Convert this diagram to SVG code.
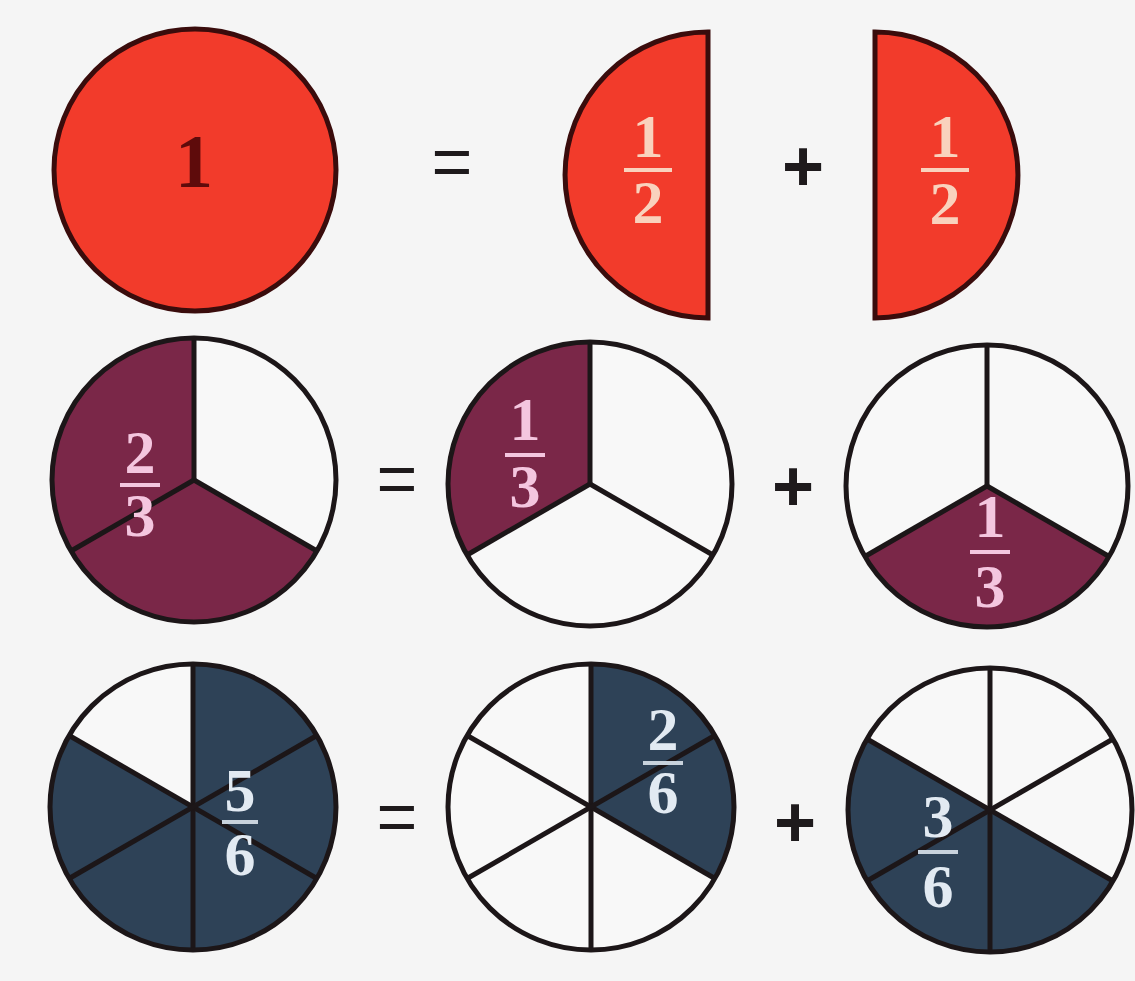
<svg xmlns="http://www.w3.org/2000/svg" width="1135" height="981" viewBox="0 0 1135 981">
<style>
.bg{fill:#f5f5f5}
.red{fill:#f23b2b;stroke:#3a0c0c;stroke-width:5}
.white{fill:#f8f8f8}
.rim{fill:none;stroke:#1c1618;stroke-width:5}
.spoke{stroke:#1c1618;stroke-width:5}
.maroon{fill:#7a2748}
.navy{fill:#2e4257}
.num{font-family:"Liberation Serif","Times New Roman",serif;font-weight:bold;font-size:62px;text-anchor:middle}
.halfT{fill:#f9d2bd}
.halfB{stroke:#f9d2bd;stroke-width:4}
.pinkT{fill:#f4c6df}
.pinkB{stroke:#f4c6df;stroke-width:4}
.blueT{fill:#e2eaf2}
.blueB{stroke:#c8d2dc;stroke-width:4}
.op{font-family:"Liberation Sans",Arial,sans-serif;font-size:70px;fill:#1e1a1c;text-anchor:middle}
.plus{font-weight:bold;font-size:72px}
</style>
<rect class="bg" x="0" y="0" width="1135" height="981"/>

<g id="whole">
<circle class="red" cx="195" cy="170" r="141"/>
<text x="194" y="187" font-family="'Liberation Serif',serif" font-weight="bold" font-size="76" fill="#5e0b0b" text-anchor="middle">1</text>
</g>
<g id="eq1"><text class="op" x="452" y="186">=</text></g>
<g id="half-left">
<path class="red" d="M708,32 A143,143 0 0 0 708,318 Z"/>
<text class="num halfT" x="648" y="157">1</text>
<line class="halfB" x1="624" y1="170" x2="672" y2="170"/>
<text class="num halfT" x="648" y="223">2</text>
</g>
<g id="plus1"><text class="op plus" x="803" y="191">+</text></g>
<g id="half-right">
<path class="red" d="M875,32 A143,143 0 0 1 875,318 Z"/>
<text class="num halfT" x="945" y="157">1</text>
<line class="halfB" x1="921" y1="170" x2="969" y2="170"/>
<text class="num halfT" x="945" y="224">2</text>
</g>

<g id="two-thirds">
<circle class="white" cx="194" cy="480" r="142"/>
<path class="maroon" d="M194,480 L194,338 A142,142 0 1 0 316.98,551 Z"/>
<line class="spoke" x1="194" y1="480" x2="194" y2="338"/>
<line class="spoke" x1="194" y1="480" x2="316.98" y2="551"/>
<line class="spoke" x1="194" y1="480" x2="71.02" y2="551"/>
<circle class="rim" cx="194" cy="480" r="142"/>
<text class="num pinkT" x="140" y="473">2</text>
<line class="pinkB" x1="120" y1="485" x2="160" y2="485"/>
<text class="num pinkT" x="140" y="536">3</text>
</g>
<g id="eq2"><text class="op" x="397" y="503">=</text></g>
<g id="one-third-a">
<circle class="white" cx="590" cy="484" r="142"/>
<path class="maroon" d="M590,484 L590,342 A142,142 0 0 0 467.02,555 Z"/>
<line class="spoke" x1="590" y1="484" x2="590" y2="342"/>
<line class="spoke" x1="590" y1="484" x2="712.98" y2="555"/>
<line class="spoke" x1="590" y1="484" x2="467.02" y2="555"/>
<circle class="rim" cx="590" cy="484" r="142"/>
<text class="num pinkT" x="525" y="440">1</text>
<line class="pinkB" x1="505" y1="455" x2="545" y2="455"/>
<text class="num pinkT" x="525" y="507">3</text>
</g>
<g id="plus2"><text class="op plus" x="793" y="511">+</text></g>
<g id="one-third-b">
<circle class="white" cx="987" cy="486" r="141"/>
<path class="maroon" d="M987,486 L1109.11,556.5 A141,141 0 0 1 864.89,556.5 Z"/>
<line class="spoke" x1="987" y1="486" x2="987" y2="345"/>
<line class="spoke" x1="987" y1="486" x2="1109.11" y2="556.5"/>
<line class="spoke" x1="987" y1="486" x2="864.89" y2="556.5"/>
<circle class="rim" cx="987" cy="486" r="141"/>
<text class="num pinkT" x="990" y="537">1</text>
<line class="pinkB" x1="970" y1="552" x2="1010" y2="552"/>
<text class="num pinkT" x="990" y="607">3</text>
</g>

<g id="five-sixths">
<circle class="white" cx="193" cy="807" r="143"/>
<path class="navy" d="M193,807 L193,664 A143,143 0 1 1 69.16,735.5 Z"/>
<line class="spoke" x1="193" y1="664" x2="193" y2="950"/>
<line class="spoke" x1="69.16" y1="735.5" x2="316.84" y2="878.5"/>
<line class="spoke" x1="69.16" y1="878.5" x2="316.84" y2="735.5"/>
<circle class="rim" cx="193" cy="807" r="143"/>
<text class="num blueT" x="240" y="811" font-size="58">5</text>
<line class="blueB" x1="222" y1="822" x2="258" y2="822"/>
<text class="num blueT" x="240" y="875" font-size="58">6</text>
</g>
<g id="eq3"><text class="op" x="397" y="841">=</text></g>
<g id="two-sixths">
<circle class="white" cx="591" cy="807" r="143"/>
<path class="navy" d="M591,807 L591,664 A143,143 0 0 1 714.84,878.5 Z"/>
<line class="spoke" x1="591" y1="664" x2="591" y2="950"/>
<line class="spoke" x1="467.16" y1="735.5" x2="714.84" y2="878.5"/>
<line class="spoke" x1="467.16" y1="878.5" x2="714.84" y2="735.5"/>
<circle class="rim" cx="591" cy="807" r="143"/>
<text class="num blueT" x="663" y="750">2</text>
<line class="blueB" x1="643" y1="763" x2="683" y2="763"/>
<text class="num blueT" x="663" y="813">6</text>
</g>
<g id="plus3"><text class="op plus" x="795" y="847">+</text></g>
<g id="three-sixths">
<circle class="white" cx="990" cy="810" r="142"/>
<path class="navy" d="M990,810 L1112.98,881 A142,142 0 0 1 867.02,739 Z"/>
<line class="spoke" x1="990" y1="668" x2="990" y2="952"/>
<line class="spoke" x1="867.02" y1="739" x2="1112.98" y2="881"/>
<line class="spoke" x1="867.02" y1="881" x2="1112.98" y2="739"/>
<circle class="rim" cx="990" cy="810" r="142"/>
<text class="num blueT" x="938" y="837">3</text>
<line class="blueB" x1="918" y1="852" x2="958" y2="852"/>
<text class="num blueT" x="938" y="907">6</text>
</g>
</svg>
